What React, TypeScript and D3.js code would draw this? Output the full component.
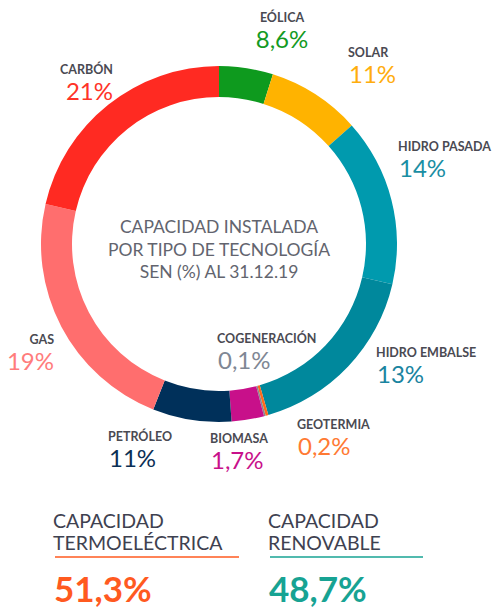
import { useEffect, useRef } from 'react'
import * as d3 from 'd3'

// clockwise from 12 o'clock
const names = ['EÓLICA', 'SOLAR', 'HIDRO PASADA', 'HIDRO EMBALSE', 'GEOTERMIA', 'COGENERACIÓN', 'BIOMASA', 'PETRÓLEO', 'GAS', 'CARBÓN']
const pctLabels = ['8,6%', '11%', '14%', '13%', '0,2%', '0,1%', '1,7%', '11%', '19%', '21%']
// share of the ring each slice takes in the picture (the drawing is not to scale with its labels)
const arcShare = [4.9, 8.5, 15.25, 16.9, 0.25, 0.15, 2.95, 7.15, 22.6, 21.4]
const sliceColors = ['#0e9a1e', '#ffb300', '#009aae', '#00889c', '#ff6a1a', '#8a8a8a', '#c8108a', '#00305a', '#ff6e6e', '#ff2a22']
const labelColors = ['#139a23', '#ffad0d', '#1a8ea3', '#1a84a0', '#ff7a33', '#7f8794', '#c8108a', '#0b2f55', '#ff7c7c', '#ff3328']

const totalsTitle = [['CAPACIDAD', 'TERMOELÉCTRICA'], ['CAPACIDAD', 'RENOVABLE']]
const totalsValue = ['51,3%', '48,7%']
const totalsColor = ['#ff5a1f', '#17a393']

const centerLines = ['CAPACIDAD INSTALADA', 'POR TIPO DE TECNOLOGÍA', 'SEN (%) AL 31.12.19']

// label anchor per slice: x, name baseline, anchor
const labelPos: [number, number, string][] = [
  [282, 22, 'middle'], [348, 57, 'start'], [398, 151, 'start'], [376, 357, 'start'],
  [297, 429, 'start'], [217, 343, 'start'], [210, 443, 'start'], [108, 441, 'start'],
  [54, 344, 'end'], [113, 74, 'end'],
]

const W = 496, H = 611
const CX = 219, CY = 244
const R_OUT = 178, R_IN = 147
const FONT = 'Lato, "Open Sans", sans-serif'

export default function App() {
  const ref = useRef<SVGSVGElement>(null)

  useEffect(() => {
    const svg = d3.select(ref.current)
    svg.selectAll('*').remove()

    const pie = d3.pie<number>().value(d => d).sort(null)
    const arc = d3.arc<d3.PieArcDatum<number>>().innerRadius(R_IN).outerRadius(R_OUT)

    const g = svg.append('g').attr('transform', `translate(${CX},${CY})`)
    g.selectAll('path')
      .data(pie(arcShare))
      .join('path')
      .attr('d', arc)
      .attr('fill', (_, i) => sliceColors[i])

    // center title
    const ct = svg.append('text').attr('text-anchor', 'middle').attr('font-family', FONT)
      .attr('font-size', 17.5).attr('fill', '#62646e')
    centerLines.forEach((t, i) => {
      ct.append('tspan').attr('x', CX).attr('y', 233 + i * 22.5).text(t)
    })

    // slice labels
    const lbl = svg.append('g').attr('font-family', FONT)
    names.forEach((n, i) => {
      const [x, y, anchor] = labelPos[i]
      lbl.append('text').attr('x', x).attr('y', y).attr('text-anchor', anchor)
        .attr('font-size', 12.5).attr('font-weight', 700).attr('fill', '#4a4a52').text(n)
      lbl.append('text').attr('x', anchor === 'start' ? x + 1 : x).attr('y', y + 26).attr('text-anchor', anchor)
        .attr('font-size', 24).attr('font-weight', 400).attr('fill', labelColors[i]).text(pctLabels[i])
    })

    // totals
    const xs = [53, 268]
    const lineW = [184, 153]
    totalsTitle.forEach((lines, i) => {
      const t = svg.append('text').attr('font-family', FONT).attr('font-size', 19.5).attr('fill', '#3e4150')
      lines.forEach((l, j) => t.append('tspan').attr('x', xs[i]).attr('y', 528 + j * 22).text(l))
      svg.append('line').attr('x1', xs[i] + 2).attr('x2', xs[i] + 2 + lineW[i]).attr('y1', 557).attr('y2', 557)
        .attr('stroke', totalsColor[i]).attr('stroke-width', 1.6)
      svg.append('text').attr('x', xs[i] + 1).attr('y', 602).attr('font-family', FONT).attr('font-size', 35)
        .attr('font-weight', 700).attr('fill', totalsColor[i]).text(totalsValue[i])
    })
  }, [])

  return (
    <svg ref={ref} width={W} height={H}
      style={{ position: 'absolute', left: 0, top: 0, background: '#fff' }} />
  )
}
